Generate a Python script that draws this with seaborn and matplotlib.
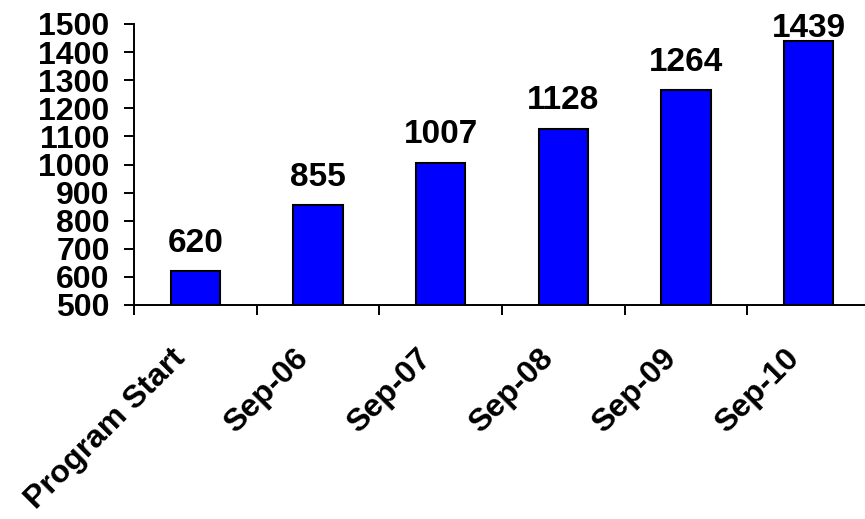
import numpy as np
import pandas as pd
import matplotlib
matplotlib.use("Agg")
import matplotlib.pyplot as plt
import matplotlib.transforms as mtransforms
import seaborn as sns

# data
categories = ["Program Start", "Sep-06", "Sep-07", "Sep-08", "Sep-09", "Sep-10"]
values = [620, 855, 1007, 1128, 1264, 1439]
y_ticks = list(range(500, 1501, 100))

sns.set_style("white")
plt.rcParams['font.family'] = ['Liberation Sans', 'DejaVu Sans']
plt.rcParams['font.weight'] = 'bold'
plt.rcParams['text.color'] = 'black'
plt.rcParams['xtick.color'] = 'black'
plt.rcParams['ytick.color'] = 'black'

fig = plt.figure(figsize=(8.65, 5.19), dpi=100)
ax = fig.add_axes([134 / 865, 1 - 305 / 519, 736 / 865, 281 / 519])

df = pd.DataFrame({"cat": categories, "val": values})
sns.barplot(data=df, x="cat", y="val", color="#0000ff", saturation=1,
            width=0.4, edgecolor="black", linewidth=1.5, ax=ax)

ax.set_ylim(500, 1500)
ax.set_xlim(-0.5, 5.5)
ax.set_yticks(y_ticks)
ax.set_yticklabels([str(t) for t in y_ticks], fontsize=23, fontweight="bold")
ax.set_xlabel("")
ax.set_ylabel("")

for side in ["top", "right"]:
    ax.spines[side].set_visible(False)
for side in ["left", "bottom"]:
    ax.spines[side].set_linewidth(1.4)
    ax.spines[side].set_color("black")

# tick marks between categories, labels at centres
ax.set_xticks(range(len(categories)))
ax.set_xticks(np.arange(-0.5, 6, 1), minor=True)
ax.tick_params(axis="x", which="minor", bottom=True, direction="out",
               length=7.5, width=1.4, color="black")
ax.tick_params(axis="x", which="major", bottom=True, length=0, pad=35)
ax.tick_params(axis="y", left=True, direction="out", length=7.5, width=1.4,
               color="black", pad=10)
ax.set_xticklabels(categories, rotation=45, ha="right", va="center",
                   rotation_mode="anchor", fontsize=23, fontweight="bold")
offset = mtransforms.ScaledTranslation(-14 / 100, 0, fig.dpi_scale_trans)
for lab in ax.get_xticklabels():
    lab.set_transform(lab.get_transform() + offset)

# value labels
for i, v in enumerate(values):
    ax.text(i, min(v + 68, 1454), str(v), ha="center", va="baseline",
            fontsize=24, fontweight="bold", clip_on=False)

fig.savefig("out.png", dpi=100)
